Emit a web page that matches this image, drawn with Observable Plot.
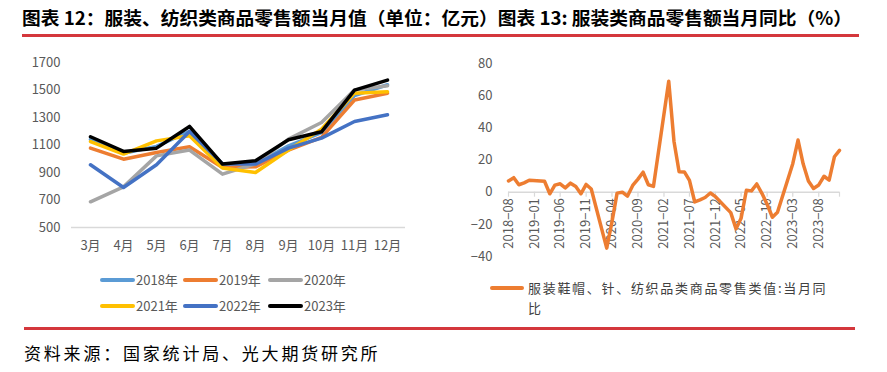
<!DOCTYPE html>
<html><head><meta charset="utf-8">
<script src="https://cdn.jsdelivr.net/npm/d3@7"></script>
<script src="https://cdn.jsdelivr.net/npm/@observablehq/plot@0.6"></script>
<style>
body{margin:0;background:#fff;width:887px;height:372px;position:relative;overflow:hidden;font-family:"Noto Sans CJK SC",sans-serif;}
#title{position:absolute;left:22px;top:4px;font-size:18px;font-weight:bold;white-space:nowrap;transform-origin:0 0;color:#000;line-height:26px;}
.redline{position:absolute;height:3px;background:#D4373C;}
#left{position:absolute;left:0;top:50px;}
#right{position:absolute;left:440px;top:50px;}
.leg{position:absolute;font-size:13px;color:#595959;white-space:nowrap;line-height:16px;}
.sw{position:absolute;height:4px;border-radius:2px;}
#source{position:absolute;left:24px;top:341px;font-size:17px;letter-spacing:2.8px;color:#000;white-space:nowrap;line-height:24px;}
#rleg{position:absolute;left:528px;top:278px;font-size:13px;letter-spacing:1.7px;color:#404040;line-height:20px;white-space:nowrap;}
</style></head>
<body>
<div id="left"></div>
<div id="right"></div>
<div id="title">图表 12：服装、纺织类商品零售额当月值（单位：亿元）图表 13: 服装类商品零售额当月同比（%）</div>
<div class="redline" style="left:22px;top:34px;width:837px;"></div>
<div id="legL"></div>
<div class="sw" style="left:490px;top:286px;width:34px;background:#ED7D31;"></div>
<div id="rleg">服装鞋帽、针、纺织品类商品零售类值:当月同<br>比</div>
<div class="redline" style="left:24px;top:327px;width:831px;"></div>
<div id="source">资料来源：国家统计局、光大期货研究所</div>
<script>
// ---- Left chart data ----
const months = ["3月","4月","5月","6月","7月","8月","9月","10月","11月","12月"];
const years = ["2018年","2019年","2020年","2021年","2022年","2023年"];
const colorsL = ["#5B9BD5","#ED7D31","#A5A5A5","#FFC000","#4472C4","#000000"];
const v2018 = [1140,1040,1090,1200,950,960,1094,1190,1460,1538];
const v2019 = [1077,997,1045,1087,936,941,1063,1155,1427,1477];
const v2020 = [687,796,1021,1063,888,964,1143,1264,1500,1531];
const v2021 = [1125,1034,1130,1167,932,900,1063,1215,1477,1487];
const v2022 = [956,791,956,1198,964,961,1077,1150,1271,1320];
const v2023 = [1160,1053,1077,1235,961,985,1138,1196,1499,1572];
const yTicksL = [500,700,900,1100,1300,1500,1700];

// ---- Right chart data ----
const yoyDates = ["2018-08","2018-09","2018-10","2018-11","2018-12",
"2019-03","2019-04","2019-05","2019-06","2019-07","2019-08","2019-09","2019-10","2019-11","2019-12",
"2020-03","2020-04","2020-05","2020-06","2020-07","2020-08","2020-09","2020-10","2020-11","2020-12",
"2021-03","2021-04","2021-05","2021-06","2021-07","2021-08","2021-09","2021-10","2021-11","2021-12",
"2022-03","2022-04","2022-05","2022-06","2022-07","2022-08","2022-09","2022-10","2022-11","2022-12",
"2023-03","2023-04","2023-05","2023-06","2023-07","2023-08","2023-09","2023-10","2023-11","2023-12"];
const yoyValues = [7.0,9.0,4.6,5.8,7.4,
6.8,-1.0,4.4,5.2,2.7,5.6,3.5,-1.0,4.8,2.0,
-34.8,-18.5,-0.6,0.0,-2.5,4.2,8.1,12.4,4.6,3.6,
69.0,31.5,12.7,12.6,7.3,-6.1,-4.8,-3.3,-0.5,-2.8,
-12.7,-22.8,-16.2,1.2,0.8,5.1,-0.9,-7.5,-15.6,-12.5,
17.7,32.4,17.6,6.9,2.3,4.5,9.9,7.5,22.0,26.0];
const xTickLabels = ["2018-08","2019-01","2019-06","2019-11","2020-04","2020-09","2021-02","2021-07","2021-12","2022-05","2022-10","2023-03","2023-08"];
const xEndTick = "2023-12";
const yTicksR = [-40,-20,0,20,40,60,80];

const parse = d3.utcParse("%Y-%m");
const series = [v2018,v2019,v2020,v2021,v2022,v2023];
const rowsL = years.flatMap((y,i)=>months.map((m,j)=>({year:y, month:m, value:series[i][j]})));
const fmt = d => String(d).replace("-", "−");

const left = Plot.plot({
  width: 430, height: 210, marginTop: 12, marginBottom: 33, marginLeft: 71, marginRight: 25,
  style: {fontFamily: "'Noto Sans CJK SC', sans-serif", fontSize: "13px", color: "#595959", background: "transparent"},
  x: {type: "point", domain: months, padding: 0.5},
  y: {domain: [500,1700]},
  color: {domain: years, range: colorsL},
  marks: [
    Plot.ruleY([500], {stroke: "#D9D9D9", strokeWidth: 1.5}),
    Plot.axisY({ticks: yTicksL, tickSize: 0, tickPadding: 11, fill: "#595959", label: null, tickFormat: d => String(d)}),
    Plot.axisX({tickSize: 0, tickPadding: 13, fill: "#595959", label: null}),
    Plot.line(rowsL, {x: "month", y: "value", z: "year", stroke: "year", strokeWidth: 3.5, strokeLinejoin: "round"})
  ]
});
document.getElementById("left").appendChild(left);

const rowsR = yoyDates.map((d,i)=>({date: parse(d), value: yoyValues[i]}));
const tickDates = xTickLabels.map(parse);
const allTicks = tickDates.concat([parse(xEndTick)]);

const right = Plot.plot({
  width: 440, height: 250, marginTop: 13, marginBottom: 44, marginLeft: 68, marginRight: 41,
  style: {fontFamily: "'Noto Sans CJK SC', sans-serif", fontSize: "13px", color: "#595959", background: "transparent"},
  x: {type: "utc", domain: [parse(yoyDates[0]), parse(xEndTick)], axis: null},
  y: {domain: [-40, 80]},
  marks: [
    Plot.axisY({ticks: yTicksR, tickSize: 0, tickPadding: 16, fill: "#595959", label: null, tickFormat: fmt}),
    Plot.ruleY([0], {stroke: "#D9D9D9", strokeWidth: 1.5}),
    Plot.ruleX(allTicks, {x: d=>d, y1: 0, y2: 0, insetBottom: -5, stroke: "#D9D9D9", strokeWidth: 1.2}),
    Plot.text(tickDates, {x: d=>d, y: 0, text: (d,i)=>fmt(xTickLabels[i]), rotate: -90, textAnchor: "end", lineAnchor: "middle", dy: 6, fill: "#595959", fontSize: 13}),
    Plot.line(rowsR, {x: "date", y: "value", stroke: "#ED7D31", strokeWidth: 3.5, strokeLinejoin: "round"})
  ]
});
document.getElementById("right").appendChild(right);

// left legend
const legL = document.getElementById("legL");
const legX = [100, 183, 268];
const legY = [280, 306];
years.forEach((y,i)=>{
  const col = i % 3, row = Math.floor(i/3);
  const sw = document.createElement("div");
  sw.className = "sw";
  sw.style.left = legX[col] + "px"; sw.style.top = (legY[row]-2) + "px";
  sw.style.width = "35px"; sw.style.background = colorsL[i];
  legL.appendChild(sw);
  const t = document.createElement("div");
  t.className = "leg";
  t.style.left = (legX[col]+36) + "px"; t.style.top = (legY[row]-8) + "px";
  t.textContent = y;
  legL.appendChild(t);
});

// fit title width
const title = document.getElementById("title");
const w = title.getBoundingClientRect().width;
title.style.transform = `scaleX(${830/w})`;
</script>
</body></html>
